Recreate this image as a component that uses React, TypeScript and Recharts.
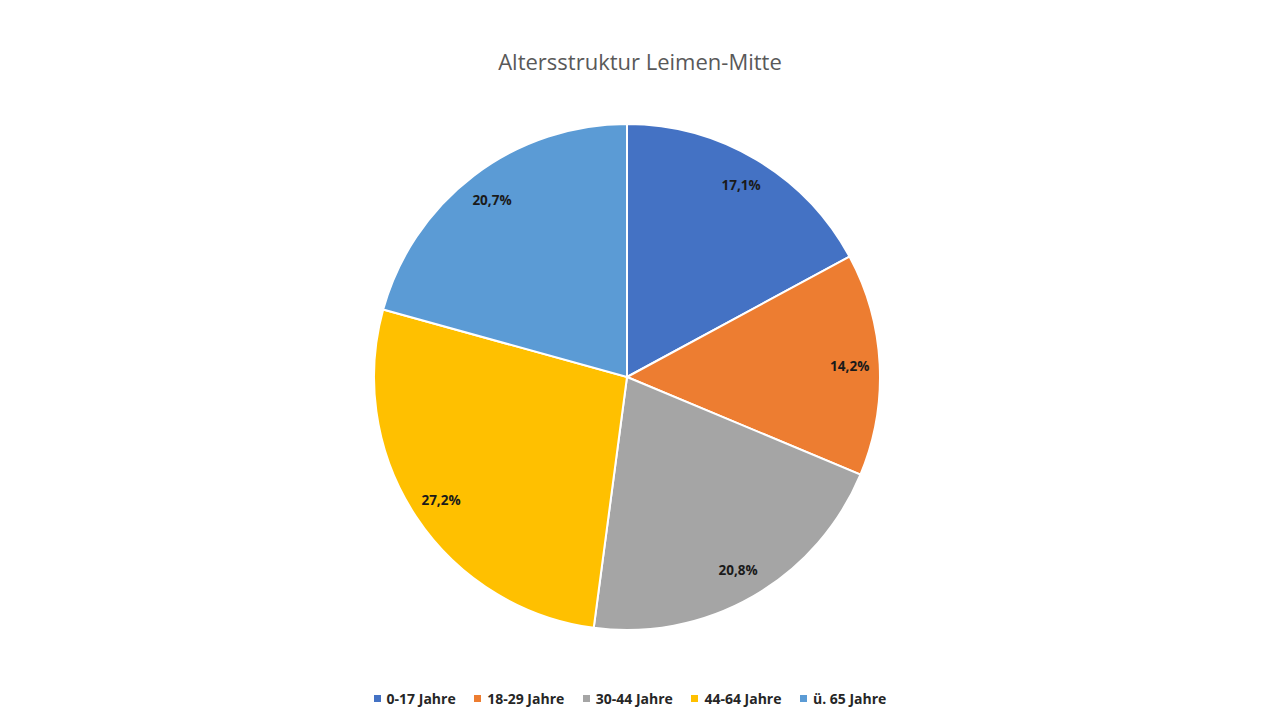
import { Cell, Legend, Pie, PieChart } from "recharts";

const W = 1280;
const H = 720;

const categories = ["0-17 Jahre", "18-29 Jahre", "30-44 Jahre", "44-64 Jahre", "ü. 65 Jahre"];
const shares = [17.1, 14.2, 20.8, 27.2, 20.7];
const colors = ["#4472C4", "#ED7D31", "#A5A5A5", "#FFC000", "#5B9BD5"];

const data = categories.map((name, i) => ({ name, value: shares[i] }));

const RAD = Math.PI / 180;
const LABEL_R = 223;

function renderLabel(props: any) {
  const { cx, cy, midAngle, value } = props;
  const x = cx + LABEL_R * Math.cos(-midAngle * RAD);
  const y = cy + LABEL_R * Math.sin(-midAngle * RAD);
  return (
    <text
      x={x}
      y={y}
      textAnchor="middle"
      dominantBaseline="central"
      fill="#1a1a1a"
      fontSize={13.5}
      fontWeight={700}
      fontFamily="'Open Sans', sans-serif"
    >
      {value.toFixed(1).replace(".", ",")}%
    </text>
  );
}

function LegendBox() {
  return (
    <div
      style={{
        display: "flex",
        justifyContent: "center",
        gap: 18.5,
        paddingRight: 20,
        fontFamily: "'Open Sans', sans-serif",
        fontSize: 14,
        fontWeight: 700,
        color: "#262626",
      }}
    >
      {categories.map((c, i) => (
        <div key={c} style={{ display: "flex", alignItems: "center" }}>
          <span
            style={{ width: 7, height: 7, background: colors[i], display: "inline-block", marginRight: 6 }}
          />
          {c}
        </div>
      ))}
    </div>
  );
}

export default function App() {
  return (
    <div style={{ position: "absolute", left: 0, top: 0, width: W, height: H, background: "#fff" }}>
      <div
        style={{
          position: "absolute",
          top: 46,
          width: W,
          textAlign: "center",
          fontFamily: "'Open Sans', sans-serif",
          fontSize: 22,
          color: "#595959",
        }}
      >
        Altersstruktur Leimen-Mitte
      </div>
      <PieChart width={W} height={H} margin={{ top: 0, right: 0, bottom: 0, left: 0 }}>
        <Pie
          data={data}
          dataKey="value"
          nameKey="name"
          cx={627}
          cy={377}
          outerRadius={253}
          startAngle={90}
          endAngle={-270}
          stroke="#fff"
          strokeWidth={2}
          label={renderLabel}
          labelLine={false}
          isAnimationActive={false}
        >
          {data.map((d, i) => (
            <Cell key={d.name} fill={colors[i]} />
          ))}
        </Pie>
        <Legend
          verticalAlign="bottom"
          content={() => <LegendBox />}
          wrapperStyle={{ bottom: 12, left: 0, width: W }}
        />
      </PieChart>
    </div>
  );
}
